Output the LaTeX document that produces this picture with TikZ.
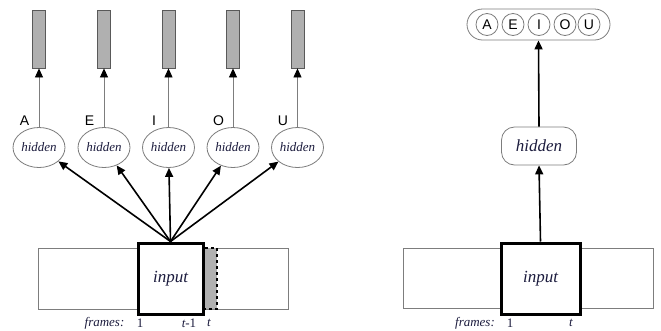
\documentclass[tikz,border=0pt]{standalone}
\usepackage{fontspec}
\setmainfont{Liberation Serif}
\newfontfamily\vowelfont{Liberation Sans}
\usetikzlibrary{arrows.meta,shapes.geometric}

\definecolor{ink}{RGB}{28,28,62}
\definecolor{edge}{RGB}{125,125,125}
\definecolor{barfill}{RGB}{176,176,176}

\tikzset{
  hid/.style={ellipse, draw=edge, line width=0.8pt, fill=white, inner sep=0pt,
    minimum width=52pt, minimum height=40pt, text=ink,
    font=\fontsize{13}{15}\selectfont\itshape},
  bar/.style={rectangle, draw=black!65, line width=0.8pt, fill=barfill,
    minimum width=13pt, minimum height=58pt, inner sep=0pt},
  inbox/.style={rectangle, draw=black, line width=3pt, fill=white, text=ink,
    minimum height=71pt, inner sep=0pt, font=\fontsize{17}{19}\selectfont\itshape},
  strip/.style={draw=edge, line width=0.8pt},
  frm/.style={text=ink, inner sep=0pt, font=\fontsize{13}{15}\selectfont},
  vowel/.style={text=black, inner sep=0pt, font=\vowelfont\fontsize{14}{16}\selectfont},
  thinarr/.style={draw=edge, line width=0.8pt,
    -{Triangle[length=9pt 0,width=8pt 0,color=black]}},
  fatarr/.style={draw=black, line width=1.6pt, -{Triangle[length=9pt 0,width=8pt 0]}}
}

\begin{document}
\begin{tikzpicture}[x=1pt,y=-1pt]
\useasboundingbox (0,0) rectangle (661,330);

% left: one hidden layer per vowel
\draw[strip] (38,248) rectangle (288,309);
\node[rectangle, draw=black, dashed, line width=2.2pt, fill=barfill,
  minimum width=14pt, minimum height=61pt, inner sep=0pt] (next) at (210,278.5) {};
\node[inbox, minimum width=65pt] (inp) at (170.5,278.5) {input};

\foreach \x/\v in {39/A,104/E,168.5/I,233/O,297.5/U} {
  \node[bar] (o\v) at (\x,39) {};
  \node[hid] (h\v) at (\x,147.5) {hidden};
  \node[vowel] (l\v) at (\x-14.5,120.5) {\v};
  \draw[thinarr] (h\v.north) -- (o\v.south);
  \draw[fatarr] (inp.north) -- (h\v);
}

\node[frm] (f1) at (104.5,323) {\itshape frames:};
\node[frm] (f2) at (140,323) {1};
\node[frm] (f3) at (189,323) {\itshape t\upshape -1};
\node[frm] (f4) at (209,323) {\itshape t};

% right: one shared hidden layer
\draw[strip] (403,248) rectangle (653,308);
\node[inbox, minimum width=79pt] (inp2) at (540.5,278.5) {input};
\node[rectangle, rounded corners=13pt, draw=edge, line width=0.8pt, text=ink,
  minimum width=75pt, minimum height=38pt, inner sep=0pt,
  font=\fontsize{17}{19}\selectfont\itshape] (hid2) at (539,146) {hidden};
\node[rectangle, rounded corners=15.5pt, draw=edge, line width=0.8pt,
  minimum width=143pt, minimum height=31pt] (outs) at (538.5,24.5) {};
\foreach \x/\v in {487/A,513/E,539/I,565/O,589/U}
  \node[circle, draw=edge, line width=0.8pt, minimum size=22pt, vowel] (c\v) at (\x,24.5) {\v};

\draw[fatarr] (inp2.north) -- (hid2.south);
\draw[fatarr] (hid2.north) -- (outs.south);

\node[frm] (g1) at (475,323) {\itshape frames:};
\node[frm] (g2) at (510,323) {1};
\node[frm] (g3) at (571,323) {\itshape t};
\end{tikzpicture}
\end{document}
